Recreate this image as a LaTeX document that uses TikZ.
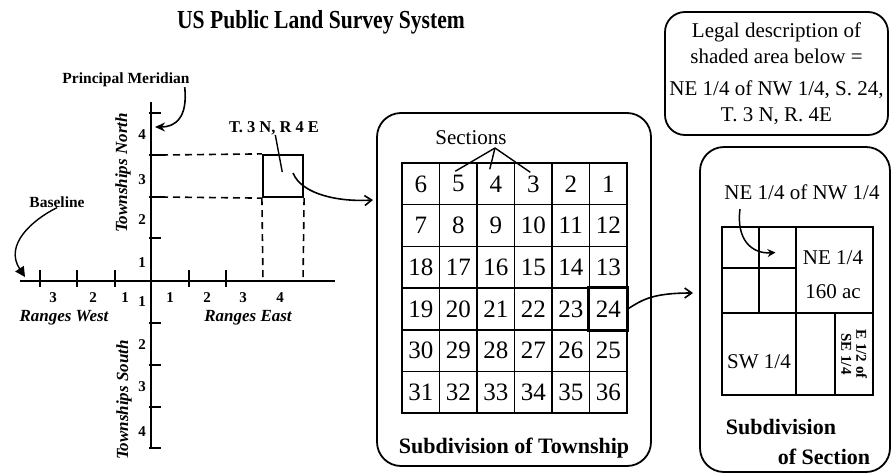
\documentclass[tikz,border=0pt]{standalone}
\usepackage{fontspec}
\setmainfont{Liberation Serif}
\usetikzlibrary{arrows.meta,positioning}

\tikzset{
  panel/.style={draw, line width=1.8pt, rounded corners=24pt, inner sep=0pt},
  cell/.style={draw, line width=1.5pt, minimum width=37.5pt, minimum height=41.7pt,
    inner sep=0pt, font=\fontsize{25}{25}\selectfont},
  ticklbl/.style={font=\fontsize{15}{15}\selectfont\bfseries, inner sep=0pt},
  axislbl/.style={font=\fontsize{17}{17}\selectfont\bfseries\itshape, inner sep=0pt},
  note/.style={font=\fontsize{15.5}{15.5}\selectfont\bfseries, inner sep=0pt},
  guide/.style={line width=1.6pt, dash pattern=on 7pt off 5pt},
  ptr/.style={-{Straight Barb[length=7pt,width=10pt]}, line width=1.6pt},
}

\begin{document}
\begin{tikzpicture}[x=1pt, y=-1pt]
  % \draw[help lines, gray!50, very thin] (0,0) grid[xstep=50,ystep=50] (891,474);
  \useasboundingbox (0,0) rectangle (891,474);

  \node[font=\fontsize{26}{26}\selectfont\bfseries] (title) at (321,22) {\scalebox{0.83}[1]{US Public Land Survey System}};

  % axes and ticks
  \draw[line width=2.6pt] (20,281) -- (335,281);
  \draw[line width=2.6pt] (151,102) -- (151,448);
  \foreach \x in {40,77,115,189,226}
    \draw[line width=1.8pt] (\x,270) -- (\x,287);
  \foreach \y in {113,155,197,238,323,365,407,448}
    \draw[line width=1.8pt] (149,\y) -- (161,\y);

  \foreach \t/\x in {3/53,2/93,1/125}
    \node[ticklbl] (rw\t) at (\x,298) {\t};
  \foreach \t/\x in {1/170,2/207,3/243,4/280}
    \node[ticklbl] (re\t) at (\x,298) {\t};
  \foreach \t/\y in {1/263,2/220,3/180,4/135}
    \node[ticklbl] (tn\t) at (142,\y) {\t};
  \foreach \t/\y in {1/302,2/345,3/387,4/432}
    \node[ticklbl] (ts\t) at (142,\y) {\t};

  \node[axislbl] (rwest) at (64,318) {Ranges West};
  \node[axislbl] (reast) at (248,318) {Ranges East};
  \node[axislbl, rotate=90] (tnorth) at (123,173) {Townships North};
  \node[axislbl, rotate=90] (tsouth) at (124,400) {Townships South};

  \node[note] (pm) at (126,80) {Principal Meridian};
  \coordinate (pmend) at (155,127);
  \draw[-{Stealth[length=10pt,width=9pt]}, line width=1.6pt]
    ([xshift=-5pt]pm.south east) .. controls (188,118) and (175,127) .. (pmend);

  \node[note] (base) at (57,202) {Baseline};
  \coordinate (baseend) at (25,277);
  \draw[-{Triangle[length=10pt,width=10pt]}, line width=1.4pt]
    (base.south) .. controls (32,220) and (4,245) .. (baseend);

  % township T.3N R.4E
  \node[draw, line width=2.2pt, minimum width=40pt, minimum height=42pt, inner sep=0pt] (twp) at (283,176) {};
  \draw[guide] (161,155) -- (twp.north west);
  \draw[guide] (161,197) -- (twp.south west);
  \draw[guide] (twp.south west) -- (263,281);
  \draw[guide] (twp.south east) -- (303,281);
  \node[note, font=\fontsize{16.5}{16.5}\selectfont\bfseries] (twplbl) at (274,128) {T. 3 N, R 4 E};
  \draw[line width=1.4pt, shorten >=4pt] (twplbl) -- (twp.center);

  % subdivision of township
  \node[panel, minimum width=274pt, minimum height=353pt] (twpbox) at (514,289.5) {};
  \coordinate (tin) at (373,200);
  \draw[ptr] ([xshift=10pt,yshift=3pt]twp.center) .. controls (302,195) and (340,202) .. (tin);

  \foreach \r in {0,...,5}
    \foreach \c in {0,...,5} {
      \pgfmathtruncatemacro{\n}{mod(\r,2)==0 ? 6*\r+6-\c : 6*\r+1+\c}
      \node[cell] (s\n) at ({420.75+37.5*\c},{183.85+41.7*\r}) {\n};
    }
  \draw[line width=3pt] (s24.north west) rectangle (s24.south east);

  \node[font=\fontsize{21}{21}\selectfont] (sect) at (471,138) {Sections};
  \coordinate (sfoot) at (495,148);
  \draw[line width=1.4pt] (sfoot) -- ([xshift=-3pt,yshift=-9pt]s5.north);
  \draw[line width=1.4pt] (sfoot) -- ([xshift=-6pt,yshift=-7pt]s4.north);
  \draw[line width=1.4pt] (sfoot) -- ([xshift=-3pt,yshift=-10pt]s3.north);

  \node[font=\fontsize{22}{22}\selectfont\bfseries] (twpcap) at (514,448) {Subdivision of Township};

  % legal description
  \node[panel, rounded corners=20pt, minimum width=223pt, minimum height=123pt, align=center,
    font=\fontsize{21}{26}\selectfont] (legal) at (776.5,73.5)
    {Legal description of\\ shaded area below =\\[6pt] NE 1/4 of NW 1/4, S. 24,\\ T. 3 N, R. 4E};

  % subdivision of section
  \node[panel, minimum width=190pt, minimum height=325pt] (secbox) at (795,309.5) {};
  \coordinate (sin) at (693,293);
  \draw[ptr] (s24.east) .. controls (642,300) and (652,293) .. (sin);

  \draw[line width=2.8pt] (722,227) rectangle (873,395);
  \draw[line width=1.5pt] (796,227) -- (796,395) (722,313) -- (873,313)
    (759,227) -- (759,313) (722,268) -- (796,268) (835,313) -- (835,395);
  \node[draw, line width=2.8pt, minimum width=37pt, minimum height=41pt, inner sep=0pt] (nenw) at (777.5,247.5) {};

  \node[font=\fontsize{21}{21}\selectfont] (nenwlbl) at (802,192) {NE 1/4 of NW 1/4};
  \draw[-{Stealth[length=8pt,width=8pt]}, line width=1.5pt]
    ([xshift=-62pt,yshift=-6pt]nenwlbl.south) .. controls (736,240) and (752,254) .. ([xshift=-2pt,yshift=-5pt]nenw.center);

  \node[font=\fontsize{21}{34}\selectfont, align=center] (nelbl) at (833,275) {NE 1/4\\160 ac};
  \node[font=\fontsize{21}{21}\selectfont] (swlbl) at (759,362) {SW 1/4};
  \node[font=\fontsize{15}{15}\selectfont\bfseries, rotate=-90, align=center, inner sep=0pt] (e2lbl) at (854,354) {E 1/2 of\\SE 1/4};

  \node[font=\fontsize{22}{22}\selectfont\bfseries] (seccapa) at (781,427) {Subdivision};
  \node[font=\fontsize{22}{22}\selectfont\bfseries] (seccapb) at (824,457) {of Section};
\end{tikzpicture}
\end{document}
